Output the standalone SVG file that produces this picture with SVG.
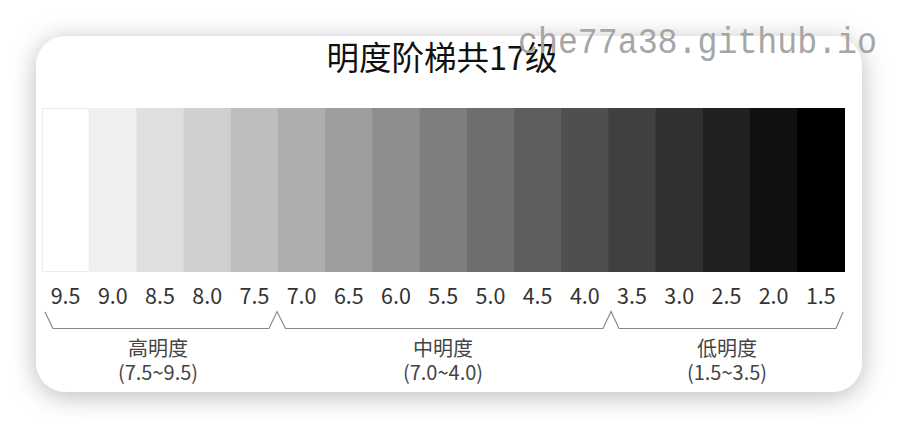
<svg xmlns="http://www.w3.org/2000/svg" width="898" height="428" viewBox="0 0 898 428">
<defs>
<filter id="sh" x="-10%" y="-20%" width="120%" height="140%">
<feGaussianBlur in="SourceAlpha" stdDeviation="13"/>
<feOffset dx="0" dy="4" result="b"/>
<feFlood flood-color="#000" flood-opacity="0.27"/>
<feComposite in2="b" operator="in"/>
<feMerge><feMergeNode/><feMergeNode in="SourceGraphic"/></feMerge>
</filter>
<style>
.num{font-family:"Noto Sans CJK SC","Noto Sans",sans-serif;font-size:21.5px;fill:#333;text-anchor:middle}
.grp{font-family:"Noto Sans CJK SC","Noto Sans",sans-serif;font-size:20px;fill:#444;text-anchor:middle}
.brace{fill:none;stroke:#8a8a8a;stroke-width:1.2;stroke-linejoin:miter}
</style>
</defs>
<rect width="898" height="428" fill="#ffffff"/>
<g id="card">
<rect x="36" y="36" width="826" height="356" rx="30" ry="30" fill="#ffffff" filter="url(#sh)"/>
</g>
<g id="title">
<text x="442" y="70" font-family="Noto Sans CJK SC, sans-serif" font-size="32.5" fill="#111" text-anchor="middle">明度阶梯共17级</text>
</g>
<g id="swatches">
<rect x="42" y="108" width="48.2" height="164" fill="#ffffff"/>
<rect x="89.2" y="108" width="48.2" height="164" fill="#efefef"/>
<rect x="136.4" y="108" width="48.2" height="164" fill="#dfdfdf"/>
<rect x="183.6" y="108" width="48.2" height="164" fill="#cfcfcf"/>
<rect x="230.8" y="108" width="48.2" height="164" fill="#bebebe"/>
<rect x="278" y="108" width="48.2" height="164" fill="#aeaeae"/>
<rect x="325.2" y="108" width="48.2" height="164" fill="#9e9e9e"/>
<rect x="372.4" y="108" width="48.2" height="164" fill="#8e8e8e"/>
<rect x="419.6" y="108" width="48.2" height="164" fill="#7e7e7e"/>
<rect x="466.8" y="108" width="48.2" height="164" fill="#6e6e6e"/>
<rect x="514" y="108" width="48.2" height="164" fill="#5e5e5e"/>
<rect x="561.2" y="108" width="48.2" height="164" fill="#4f4f4f"/>
<rect x="608.4" y="108" width="48.2" height="164" fill="#404040"/>
<rect x="655.6" y="108" width="48.2" height="164" fill="#313131"/>
<rect x="702.8" y="108" width="48.2" height="164" fill="#212121"/>
<rect x="750" y="108" width="48.2" height="164" fill="#111111"/>
<rect x="797.2" y="108" width="47.8" height="164" fill="#000000"/>
<rect x="42.5" y="108.5" width="46.7" height="163" fill="none" stroke="#ececec" stroke-width="1"/>
</g>
<g id="labels">
<text class="num" x="65.6" y="303.5">9.5</text>
<text class="num" x="112.8" y="303.5">9.0</text>
<text class="num" x="160" y="303.5">8.5</text>
<text class="num" x="207.2" y="303.5">8.0</text>
<text class="num" x="254.4" y="303.5">7.5</text>
<text class="num" x="301.6" y="303.5">7.0</text>
<text class="num" x="348.8" y="303.5">6.5</text>
<text class="num" x="396" y="303.5">6.0</text>
<text class="num" x="443.2" y="303.5">5.5</text>
<text class="num" x="490.4" y="303.5">5.0</text>
<text class="num" x="537.6" y="303.5">4.5</text>
<text class="num" x="584.8" y="303.5">4.0</text>
<text class="num" x="632" y="303.5">3.5</text>
<text class="num" x="679.2" y="303.5">3.0</text>
<text class="num" x="726.4" y="303.5">2.5</text>
<text class="num" x="773.6" y="303.5">2.0</text>
<text class="num" x="820.8" y="303.5">1.5</text>
</g>
<g id="connectors">
<path class="brace" d="M45 312 L53 328.5 L269 328.5 L277 311.5 L285.5 328.5 L603 328.5 L611 311.5 L619 328.5 L836 328.5 L843 312"/>
</g>
<g id="group-high">
<text class="grp" x="158" y="356">高明度</text>
<text class="grp" x="158" y="380">(7.5~9.5)</text>
</g>
<g id="group-mid">
<text class="grp" x="443" y="356">中明度</text>
<text class="grp" x="443" y="380">(7.0~4.0)</text>
</g>
<g id="group-low">
<text class="grp" x="727" y="356">低明度</text>
<text class="grp" x="727" y="380">(1.5~3.5)</text>
</g>
<g id="watermark">
<text x="518" y="53" font-family="Liberation Mono, DejaVu Sans Mono, monospace" font-size="37" fill="#a6a6a6" textLength="359" lengthAdjust="spacingAndGlyphs">che77a38.github.io</text>
</g>
</svg>
